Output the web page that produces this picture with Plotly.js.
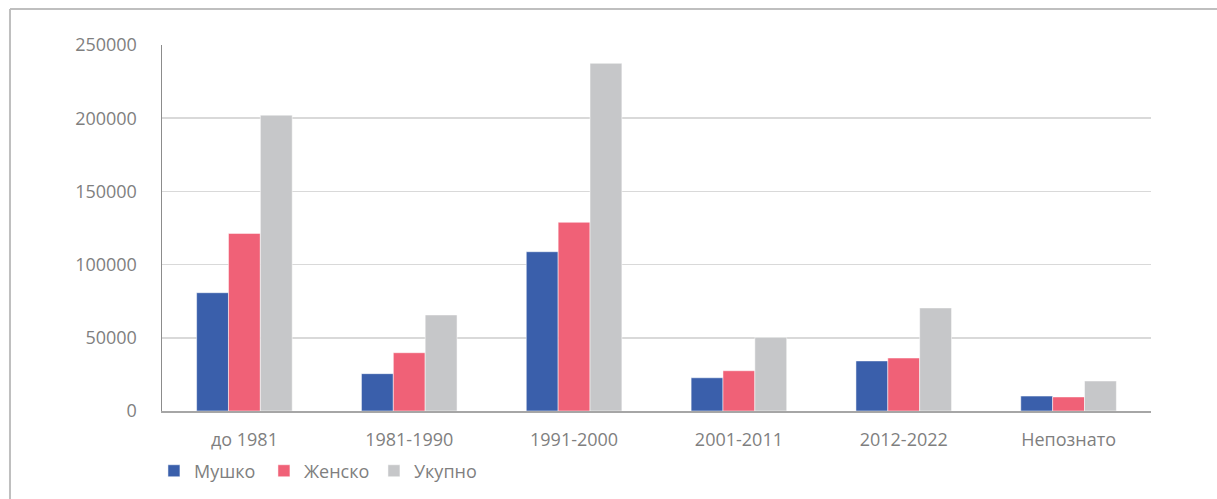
<!DOCTYPE html>
<html>
<head>
<meta charset="utf-8">
<script src="https://cdn.plot.ly/plotly-3.0.1.min.js"></script>
<style>html,body{margin:0;padding:0;background:#fff;}#chart{width:1217px;height:499px;}</style>
</head>
<body>
<div id="chart"></div>
<script>
const categories = ["до 1981", "1981-1990", "1991-2000", "2001-2011", "2012-2022", "Непознато"];
const seriesNames = ["Мушко", "Женско", "Укупно"];
const male = [80800, 25500, 108800, 22700, 34200, 10200];
const female = [121300, 39800, 128900, 27500, 36200, 9600];
const total = [202100, 65600, 237500, 50300, 70400, 20500];
const yTicks = [0, 50000, 100000, 150000, 200000, 250000];
const colors = ["#3A5FAB", "#F06177", "#C6C7C9"];

const values = [male, female, total];
const traces = values.map((v, i) => ({
  type: "bar",
  name: seriesNames[i],
  x: categories,
  y: v,
  marker: {color: colors[i], line: {color: "rgba(255,255,255,0.5)", width: 1}},
  hoverinfo: "x+y+name"
}));

const layout = {
  width: 1217,
  height: 499,
  margin: {l: 162, r: 66, t: 45, b: 88},
  paper_bgcolor: "#ffffff",
  plot_bgcolor: "#ffffff",
  barmode: "group",
  bargap: 0.42,
  bargroupgap: 0,
  font: {family: "Open Sans, Noto Sans, sans-serif", color: "#7F7F7F", size: 18},
  showlegend: true,
  legend: {
    orientation: "h",
    xref: "container", yref: "container",
    x: 0.1265, xanchor: "left",
    y: 0.056, yanchor: "middle",
    font: {size: 18, color: "#7F7F7F"},
    bgcolor: "rgba(0,0,0,0)",
    entrywidth: 65, entrywidthmode: "pixels",
    traceorder: "normal"
  },
  xaxis: {
    type: "category",
    showgrid: false,
    showline: true,
    linecolor: "#A6A6A6",
    linewidth: 2,
    ticks: "",
    ticklabelstandoff: 11,
    tickfont: {size: 18, color: "#7F7F7F"},
    zeroline: false,
    fixedrange: true
  },
  yaxis: {
    range: [0, 250000],
    tickvals: yTicks,
    tickformat: "d",
    showgrid: true,
    gridcolor: "#D9D9D9",
    gridwidth: 1.5,
    showline: true,
    linecolor: "#8C8C8C",
    linewidth: 1.5,
    zeroline: false,
    ticks: "",
    ticklabelstandoff: 20,
    tickfont: {size: 18, color: "#7F7F7F"},
    fixedrange: true
  },
  shapes: [
    {type: "line", xref: "paper", yref: "paper", x0: -0.1537, x1: 1.07, y0: 1.0984, y1: 1.0984, line: {color: "#BFBFBF", width: 2}},
    {type: "line", xref: "paper", yref: "paper", x0: -0.1537, x1: -0.1537, y0: 1.0984, y1: -0.25, line: {color: "#BFBFBF", width: 2}}
  ]
};

Plotly.newPlot("chart", traces, layout, {displayModeBar: false, staticPlot: true});
</script>
</body>
</html>
